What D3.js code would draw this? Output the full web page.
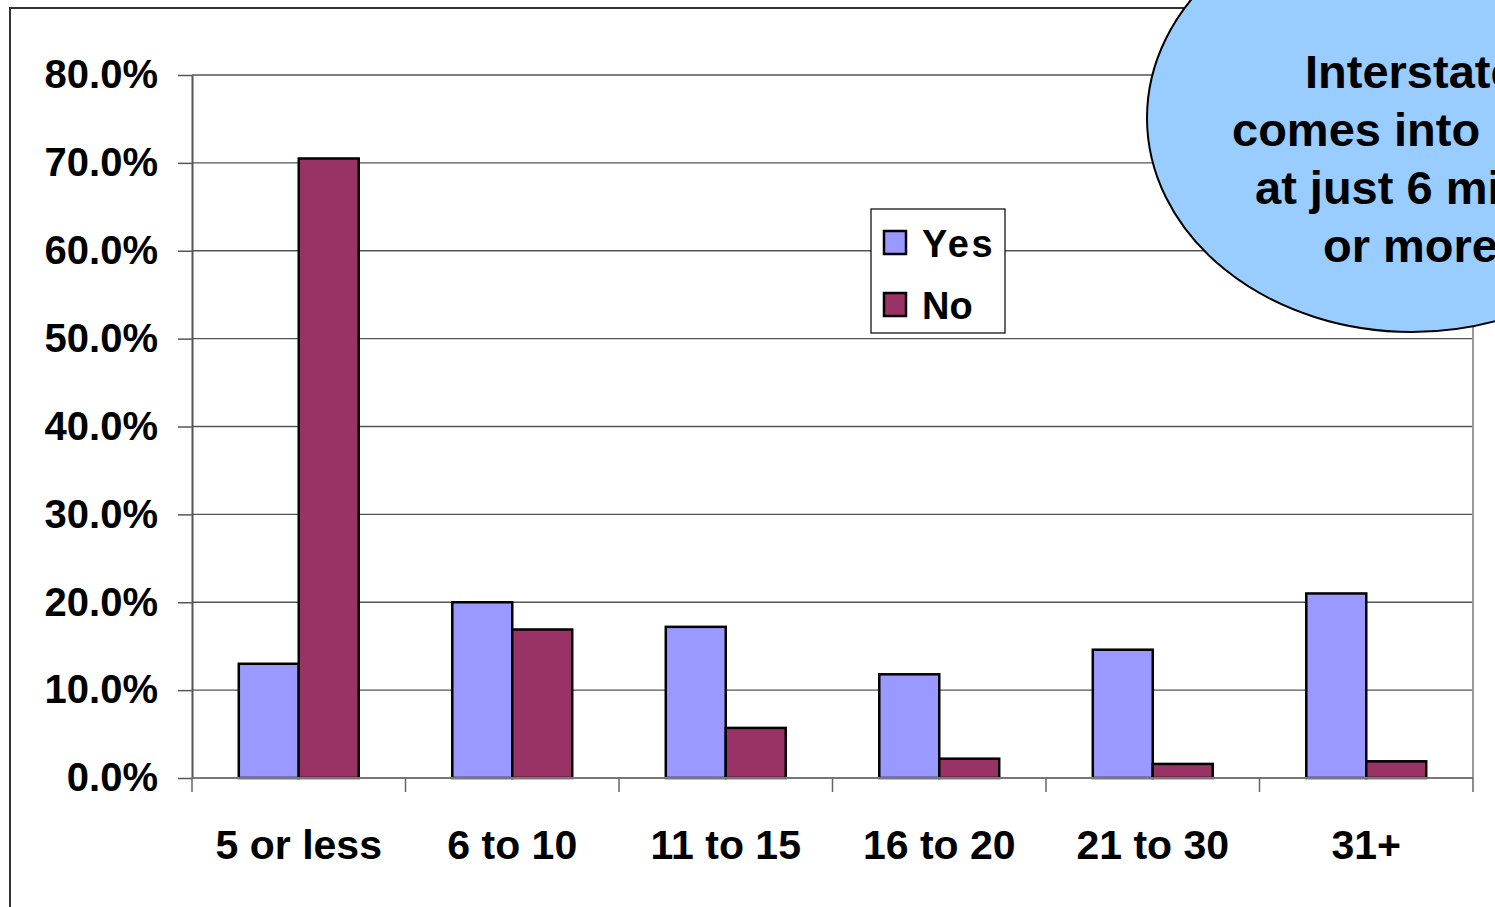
<!DOCTYPE html>
<html>
<head>
<meta charset="utf-8">
<script src="https://cdn.jsdelivr.net/npm/d3@7/dist/d3.min.js"></script>
<style>
  html, body { margin: 0; padding: 0; background: #fff; overflow: hidden; }
  svg { display: block; font-family: "Liberation Sans", Arial, sans-serif; }
</style>
</head>
<body>
<svg id="chart" width="1495" height="907"></svg>
<script>
// Commute distance (miles) by whether an interstate is used
const categories = ["5 or less", "6 to 10", "11 to 15", "16 to 20", "21 to 30", "31+"];
const seriesNames = ["Yes", "No"];
const yesValues = [0.130, 0.200, 0.172, 0.118, 0.146, 0.210];
const noValues  = [0.705, 0.169, 0.057, 0.022, 0.016, 0.019];
const yTicks = [0, 0.1, 0.2, 0.3, 0.4, 0.5, 0.6, 0.7, 0.8];
const seriesColors = ["#9999FF", "#993366"];
const calloutLines = ["Interstate", "comes into", "at just 6 miles", "or more"];
const calloutLeft = [1305, 1232, 1255, 1323];

const svg = d3.select("#chart");
const plot = { left: 192, right: 1473, top: 75, bottom: 778 };

// Outer chart frame
svg.append("rect")
  .attr("x", 10).attr("y", 8)
  .attr("width", 1600).attr("height", 1000)
  .attr("fill", "#fff").attr("stroke", "#333").attr("stroke-width", 2);

const y = d3.scaleLinear().domain([0, 0.8]).range([plot.bottom, plot.top]);
const x0 = d3.scaleBand().domain(categories).range([plot.left, plot.right]).padding(0);
const x1 = d3.scaleBand().domain(seriesNames).range([0, x0.bandwidth()])
  .paddingInner(0).paddingOuter(0.78);

// Horizontal gridlines
svg.append("g").selectAll("line").data(yTicks.slice(1)).join("line")
  .attr("x1", plot.left).attr("x2", plot.right)
  .attr("y1", d => y(d)).attr("y2", d => y(d))
  .attr("stroke", "#555").attr("stroke-width", 1.3);

// Plot area right edge
svg.append("line")
  .attr("x1", plot.right).attr("x2", plot.right)
  .attr("y1", plot.top).attr("y2", plot.bottom)
  .attr("stroke", "#999").attr("stroke-width", 2);

// Bars
const rows = categories.map((c, i) => ({ cat: c, values: [yesValues[i], noValues[i]] }));
const groups = svg.append("g").selectAll("g").data(rows).join("g")
  .attr("transform", d => `translate(${x0(d.cat)},0)`);
groups.selectAll("rect")
  .data(d => d.values.map((v, k) => ({ key: seriesNames[k], value: v, color: seriesColors[k] })))
  .join("rect")
  .attr("x", d => x1(d.key))
  .attr("width", x1.bandwidth())
  .attr("y", d => y(d.value))
  .attr("height", d => plot.bottom - y(d.value))
  .attr("fill", d => d.color)
  .attr("stroke", "#000").attr("stroke-width", 2.5);

// Y axis
const yAxis = svg.append("g")
  .attr("transform", `translate(${plot.left},0)`)
  .call(d3.axisLeft(y).tickValues(yTicks).tickFormat(d3.format(".1%"))
    .tickSize(14).tickPadding(20).tickSizeOuter(0));
yAxis.select(".domain").attr("stroke", "#555").attr("stroke-width", 2);
yAxis.selectAll(".tick line").attr("stroke", "#555").attr("stroke-width", 1.5);
yAxis.selectAll(".tick text")
  .attr("font-size", 40).attr("font-weight", "bold").attr("fill", "#000")
  .attr("font-family", "'Liberation Sans', Arial, sans-serif");

// X axis baseline and category boundary ticks
svg.append("line")
  .attr("x1", plot.left).attr("x2", plot.right)
  .attr("y1", plot.bottom).attr("y2", plot.bottom)
  .attr("stroke", "#777").attr("stroke-width", 2);
const bounds = categories.map(c => x0(c)).concat([x0(categories[categories.length - 1]) + x0.bandwidth()]);
svg.append("g").selectAll("line").data(bounds).join("line")
  .attr("x1", d => d).attr("x2", d => d)
  .attr("y1", plot.bottom).attr("y2", plot.bottom + 14)
  .attr("stroke", "#666").attr("stroke-width", 1.5);
svg.append("g").selectAll("text").data(categories).join("text")
  .attr("x", d => x0(d) + x0.bandwidth() / 2)
  .attr("y", 859)
  .attr("text-anchor", "middle")
  .attr("font-size", 41).attr("font-weight", "bold")
  .text(d => d);

// Legend
const legend = svg.append("g");
legend.append("rect")
  .attr("x", 871).attr("y", 209).attr("width", 134).attr("height", 124)
  .attr("fill", "#fff").attr("stroke", "#000").attr("stroke-width", 1.2);
seriesNames.forEach((name, k) => {
  const ly = 231 + k * 62;
  legend.append("rect")
    .attr("x", 884).attr("y", ly).attr("width", 22).attr("height", 23)
    .attr("fill", seriesColors[k]).attr("stroke", "#000").attr("stroke-width", 2.5);
  legend.append("text")
    .attr("x", 922).attr("y", ly + 26)
    .attr("font-size", 38).attr("font-weight", "bold")
    .attr("letter-spacing", name === "Yes" ? 2.5 : 0)
    .text(name);
});

// Callout bubble
const callout = svg.append("g");
callout.append("ellipse")
  .attr("cx", 1412).attr("cy", 118).attr("rx", 265).attr("ry", 214)
  .attr("fill", "#99CCFF").attr("stroke", "#000").attr("stroke-width", 2);
callout.selectAll("text").data(calloutLines).join("text")
  .attr("x", (d, i) => calloutLeft[i])
  .attr("y", (d, i) => 88 + i * 58)
  .attr("text-anchor", "start")
  .attr("font-size", 47).attr("font-weight", "bold")
  .text(d => d);
</script>
</body>
</html>
